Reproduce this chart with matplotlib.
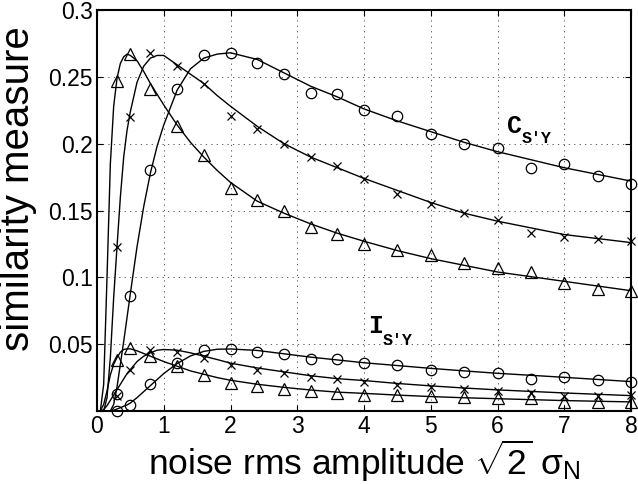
import matplotlib
matplotlib.use('Agg')
import matplotlib.pyplot as plt
from matplotlib.transforms import offset_copy

plt.rcParams.update({
    'font.family': 'Liberation Sans',
    'mathtext.fontset': 'custom',
    'mathtext.rm': 'Liberation Sans',
    'mathtext.it': 'Liberation Sans:italic',
    'mathtext.bf': 'Liberation Sans:bold',
})

# measured points (same x positions for every series)
x_pts = [0.3, 0.5, 0.8, 1.2, 1.6, 2.0, 2.4, 2.8, 3.2, 3.6,
         4.0, 4.5, 5.0, 5.5, 6.0, 6.5, 7.0, 7.5, 8.0]

c_tri = [0.247, 0.267, 0.241, 0.2135, 0.1916, 0.1667, 0.158, 0.150, 0.138, 0.1325,
         0.125, 0.1205, 0.1168, 0.1105, 0.1068, 0.1043, 0.0956, 0.091, 0.090]
c_x = [0.123, 0.220, 0.268, 0.258, 0.2445, 0.221, 0.211, 0.200, 0.190, 0.183,
       0.1734, 0.1624, 0.155, 0.148, 0.143, 0.1335, 0.1305, 0.1285, 0.1275]
c_circ = [0.013, 0.086, 0.180, 0.241, 0.266, 0.268, 0.260, 0.252, 0.238, 0.237,
          0.2253, 0.221, 0.207, 0.200, 0.197, 0.182, 0.185, 0.176, 0.170]

i_tri = [0.038, 0.047, 0.041, 0.0337, 0.0270, 0.0212, 0.019, 0.0165, 0.015, 0.0135,
         0.012, 0.012, 0.0112, 0.0102, 0.0095, 0.0095, 0.007, 0.007, 0.007]
i_x = [0.011, 0.0307, 0.0457, 0.0444, 0.040, 0.0344, 0.031, 0.0287, 0.0257, 0.0240,
       0.022, 0.0195, 0.0177, 0.0165, 0.0152, 0.0137, 0.0115, 0.0112, 0.012]
i_circ = [0.0, 0.0045, 0.020, 0.0357, 0.0455, 0.0464, 0.0444, 0.0424, 0.0387, 0.0388,
          0.0357, 0.0344, 0.0307, 0.029, 0.0287, 0.024, 0.0257, 0.0232, 0.0215]

x_fit = [0, 0.05, 0.1, 0.15, 0.2, 0.25, 0.3, 0.35, 0.4, 0.45, 0.5, 0.6, 0.7, 0.8,
         0.9, 1.0, 1.2, 1.4, 1.6, 1.8, 2.0, 2.4, 2.8, 3.2, 3.6, 4.0, 4.5, 5.0,
         5.5, 6.0, 7.0, 8.0]

fit_c_tri = [0, 0, 0.02, 0.10, 0.185, 0.228, 0.249, 0.260, 0.265, 0.267, 0.266,
             0.262, 0.254, 0.245, 0.237, 0.229, 0.214, 0.201, 0.190, 0.180, 0.171,
             0.157, 0.148, 0.140, 0.133, 0.127, 0.120, 0.114, 0.109, 0.104, 0.097,
             0.090]
fit_c_x = [0, 0, 0, 0.01, 0.04, 0.085, 0.123, 0.160, 0.19, 0.21, 0.224, 0.246,
           0.258, 0.264, 0.266, 0.266, 0.259, 0.252, 0.245, 0.236, 0.228, 0.213,
           0.200, 0.190, 0.182, 0.174, 0.165, 0.156, 0.148, 0.142, 0.132, 0.126]
fit_c_circ = [0, 0, 0, 0, 0, 0.005, 0.018, 0.035, 0.052, 0.070, 0.088, 0.123,
              0.153, 0.178, 0.198, 0.214, 0.240, 0.256, 0.264, 0.267, 0.268, 0.263,
              0.253, 0.243, 0.235, 0.226, 0.217, 0.209, 0.201, 0.194, 0.182, 0.172]

fit_i_tri = [0, 0, 0.005, 0.015, 0.027, 0.035, 0.040, 0.044, 0.046, 0.0465, 0.0465,
             0.045, 0.043, 0.041, 0.039, 0.037, 0.0335, 0.030, 0.0275, 0.025, 0.023,
             0.020, 0.0177, 0.0157, 0.0141, 0.0132, 0.0119, 0.0108, 0.0099, 0.0092,
             0.0078, 0.0068]
fit_i_x = [0, 0, 0.001, 0.004, 0.008, 0.012, 0.016, 0.020, 0.024, 0.028, 0.031,
           0.037, 0.041, 0.0435, 0.0455, 0.046, 0.0455, 0.0435, 0.041, 0.0385,
           0.0358, 0.0322, 0.0293, 0.0264, 0.0242, 0.0228, 0.0206, 0.0188, 0.0172,
           0.0158, 0.0135, 0.0115]
fit_i_circ = [0, 0, 0, 0, 0, 0.0005, 0.0015, 0.0025, 0.0035, 0.0045, 0.006, 0.010,
              0.0145, 0.019, 0.0235, 0.028, 0.0355, 0.0412, 0.0446, 0.0462, 0.0464,
              0.0453, 0.0428, 0.0403, 0.0382, 0.0361, 0.034, 0.0319, 0.0300, 0.0282,
              0.0252, 0.0220]

x_ticks = [0, 1, 2, 3, 4, 5, 6, 7, 8]
y_ticks = [0, 0.05, 0.1, 0.15, 0.2, 0.25, 0.3]
y_tick_labels = ['', '0.05', '0.1', '0.15', '0.2', '0.25', '0.3']

fig = plt.figure(figsize=(6.38, 4.84), dpi=100)
ax = fig.add_axes([97 / 638, 1 - 411 / 484, 534 / 638, 401 / 484])

for yf in (fit_c_tri, fit_c_x, fit_c_circ, fit_i_tri, fit_i_x, fit_i_circ):
    ax.plot(x_fit, yf, color='black', lw=1.0, zorder=3)

mk = dict(color='black', ls='none', clip_on=False, zorder=4)
for ys in (c_tri, i_tri):
    ax.plot(x_pts, ys, marker='^', ms=8, mfc='none', mew=0.9, **mk)
for ys in (c_x, i_x):
    ax.plot(x_pts, ys, marker='x', ms=5.5, mew=0.9, **mk)
for ys in (c_circ, i_circ):
    ax.plot(x_pts, ys, marker='o', ms=7.5, mfc='none', mew=0.9, **mk)

ax.set_xlim(0, 8)
ax.set_ylim(0, 0.3)
ax.set_xticks(x_ticks)
ax.set_yticks(y_ticks)
ax.set_yticklabels(y_tick_labels)
ax.tick_params(direction='in', length=4, width=0.8, top=True, right=True,
               labelsize=16.5)
ax.tick_params(axis='x', pad=3)
ax.tick_params(axis='y', pad=3)
ax.grid(True, color='0.25', lw=0.6, linestyle=(0, (1.5, 5)))
for sp in ax.spines.values():
    sp.set_linewidth(1.5)

# place the x label by its baseline, just above the bottom edge
ax.set_xlabel(r'noise rms amplitude $\sqrt{2}$ σ$_\mathrm{N}$', fontsize=25.5,
              va='baseline')
ax.xaxis.set_label_coords(0.5, -0.16)
ax.set_ylabel('similarity measure', fontsize=29)
ax.yaxis.set_label_coords(-0.112, 0.555)

# curve family labels (Courier-like)
mono = dict(family='Liberation Mono', fontweight='bold', color='black')
ax.text(6.14, 0.208, 'C', fontsize=18, va='baseline', **mono)
ax.text(6.14, 0.208, "S'Y", fontsize=12, va='baseline',
        transform=offset_copy(ax.transData, fig, x=15, y=-10, units='dots'), **mono)
ax.text(4.06, 0.0584, 'I', fontsize=18, va='baseline', **mono)
ax.text(4.06, 0.0584, "S'Y", fontsize=12, va='baseline',
        transform=offset_copy(ax.transData, fig, x=15, y=-12, units='dots'), **mono)

fig.savefig('out.png', dpi=100)
